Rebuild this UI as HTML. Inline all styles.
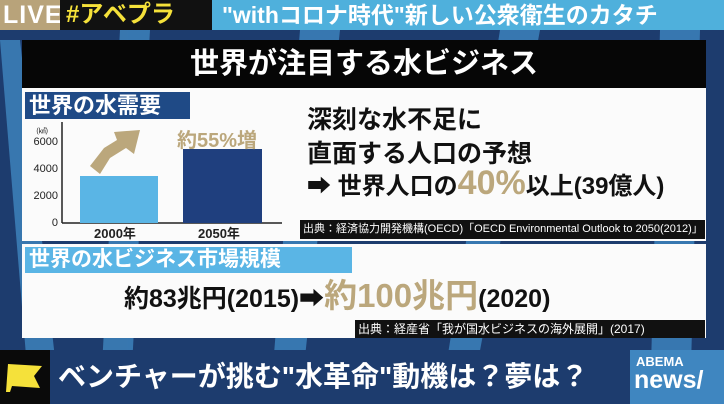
<!DOCTYPE html>
<html><head><meta charset="utf-8"><style>
*{margin:0;padding:0;box-sizing:border-box}
body{width:724px;height:404px;overflow:hidden;background:#1d3c6e;position:relative;font-family:"Liberation Sans","Noto Sans CJK JP",sans-serif}
.a{position:absolute;white-space:nowrap}
</style></head><body>
<svg class="a" style="left:0;top:0" width="724" height="404">
<g fill="#3f86c0" opacity="0.8">
<polygon points="0,40 20,40 60,404 30,404"/>
<polygon points="120,30 150,30 130,404 100,404"/>
<polygon points="300,30 340,30 300,404 270,404"/>
<polygon points="500,30 540,30 470,404 440,404"/>
<polygon points="660,30 700,30 690,404 650,404"/>
</g></svg>
<div class="a" style="left:0;top:0;width:724px;height:30px;background:#4fb0dc"></div>
<div class="a" style="left:0;top:0;width:60px;height:30px;background:#b8a37a;color:#fff;font-size:25px;font-weight:bold;line-height:30px;padding-left:3px;letter-spacing:1px">LIVE</div>
<div class="a" style="left:60px;top:0;width:152px;height:30px;background:#111;color:#f5e13a;font-size:24px;font-weight:bold;line-height:30px;padding-left:6px">#アベプラ</div>
<div class="a" style="left:222px;top:0;color:#fff;font-size:23px;font-weight:bold;line-height:30px">"withコロナ時代"新しい公衆衛生のカタチ</div>
<div class="a" style="left:22px;top:40px;width:684px;height:48px;background:#060606;color:#fff;font-size:29px;font-weight:bold;line-height:48px;text-align:center">世界が注目する水ビジネス</div>
<div class="a" style="left:22px;top:88px;width:684px;height:153px;background:#fbfbfb"></div>
<div class="a" style="left:22px;top:244px;width:684px;height:94px;background:#fbfbfb"></div>
<div class="a" style="left:25px;top:92px;width:165px;height:27px;background:#1f4a86;color:#fff;font-size:22px;font-weight:bold;line-height:27px;padding-left:4px">世界の水需要</div>
<svg class="a" style="left:22px;top:120px" width="280" height="122">
<g font-family="Liberation Sans,sans-serif" font-size="11" fill="#222" text-anchor="end">
<text x="26" y="13" font-size="7">(㎦)</text>
<text x="36" y="25">6000</text><text x="36" y="52">4000</text><text x="36" y="79">2000</text><text x="36" y="106">0</text>
</g>
<line x1="40" y1="2" x2="40" y2="103" stroke="#222" stroke-width="1.5"/>
<line x1="40" y1="103" x2="260" y2="103" stroke="#222" stroke-width="1.5"/>
<rect x="58" y="56" width="78" height="47" fill="#5ab5e5"/>
<rect x="161" y="29" width="79" height="74" fill="#1f3f7e"/>
<polygon points="68,46 82,28 95,20 92,12 118,10 112,34 104,28 88,38 78,54" fill="#bba77c"/>
<text x="155" y="27" font-size="20" font-weight="bold" fill="#bba77c" font-family="Liberation Sans,Noto Sans CJK JP,sans-serif">約55%増</text>
<text x="72" y="118" font-size="13" font-weight="bold" fill="#222" font-family="Liberation Sans,Noto Sans CJK JP,sans-serif">2000年</text>
<text x="176" y="118" font-size="13" font-weight="bold" fill="#222" font-family="Liberation Sans,Noto Sans CJK JP,sans-serif">2050年</text>
</svg>
<div class="a" style="left:307px;top:100px;font-size:25px;font-weight:bold;color:#111">深刻な水不足に</div>
<div class="a" style="left:307px;top:134px;font-size:25px;font-weight:bold;color:#111">直面する人口の予想</div>
<div class="a" style="left:307px;top:163px;font-size:24px;font-weight:bold;color:#111;line-height:40px">➡ 世界人口の<span style="color:#bba77c;font-size:34px">40%</span>以上(39億人)</div>
<div class="a" style="left:300px;top:220px;width:405px;height:19px;background:#111;color:#fff;font-size:11px;line-height:19px;padding-left:3px">出典：経済協力開発機構(OECD)「OECD Environmental Outlook to 2050(2012)」</div>
<div class="a" style="left:25px;top:247px;width:327px;height:26px;background:#5ab5e5;color:#fff;font-size:21px;font-weight:bold;line-height:26px;padding-left:4px">世界の水ビジネス市場規模</div>
<div class="a" style="left:124px;top:276px;font-size:25px;font-weight:bold;color:#111;line-height:40px">約83兆円(2015)➡<span style="color:#bba77c;font-size:33px">約100兆円</span>(2020)</div>
<div class="a" style="left:355px;top:320px;width:350px;height:18px;background:#111;color:#fff;font-size:12px;line-height:18px;padding-left:3px">出典：経産省「我が国水ビジネスの海外展開」(2017)</div>
<div class="a" style="left:0;top:350px;width:724px;height:54px;background:#1d3c6e"></div>
<div class="a" style="left:0;top:350px;width:50px;height:54px;background:#0a0a0a"></div>
<svg class="a" style="left:6px;top:362px" width="40" height="32"><polygon points="2,2 36,4 28,14 34,26 6,24 4,30 0,30" fill="#f5e13a"/></svg>
<div class="a" style="left:58px;top:350px;color:#fff;font-size:28px;font-weight:bold;line-height:54px">ベンチャーが挑む"水革命"動機は？夢は？</div>
<div class="a" style="left:630px;top:350px;width:94px;height:54px;background:#3f86c0"></div>
<div class="a" style="left:636px;top:354px;color:#fff;font-size:13px;font-weight:bold">ABEMA</div>
<div class="a" style="left:634px;top:366px;color:#fff;font-size:25px;font-weight:bold">news/</div>
</body></html>
